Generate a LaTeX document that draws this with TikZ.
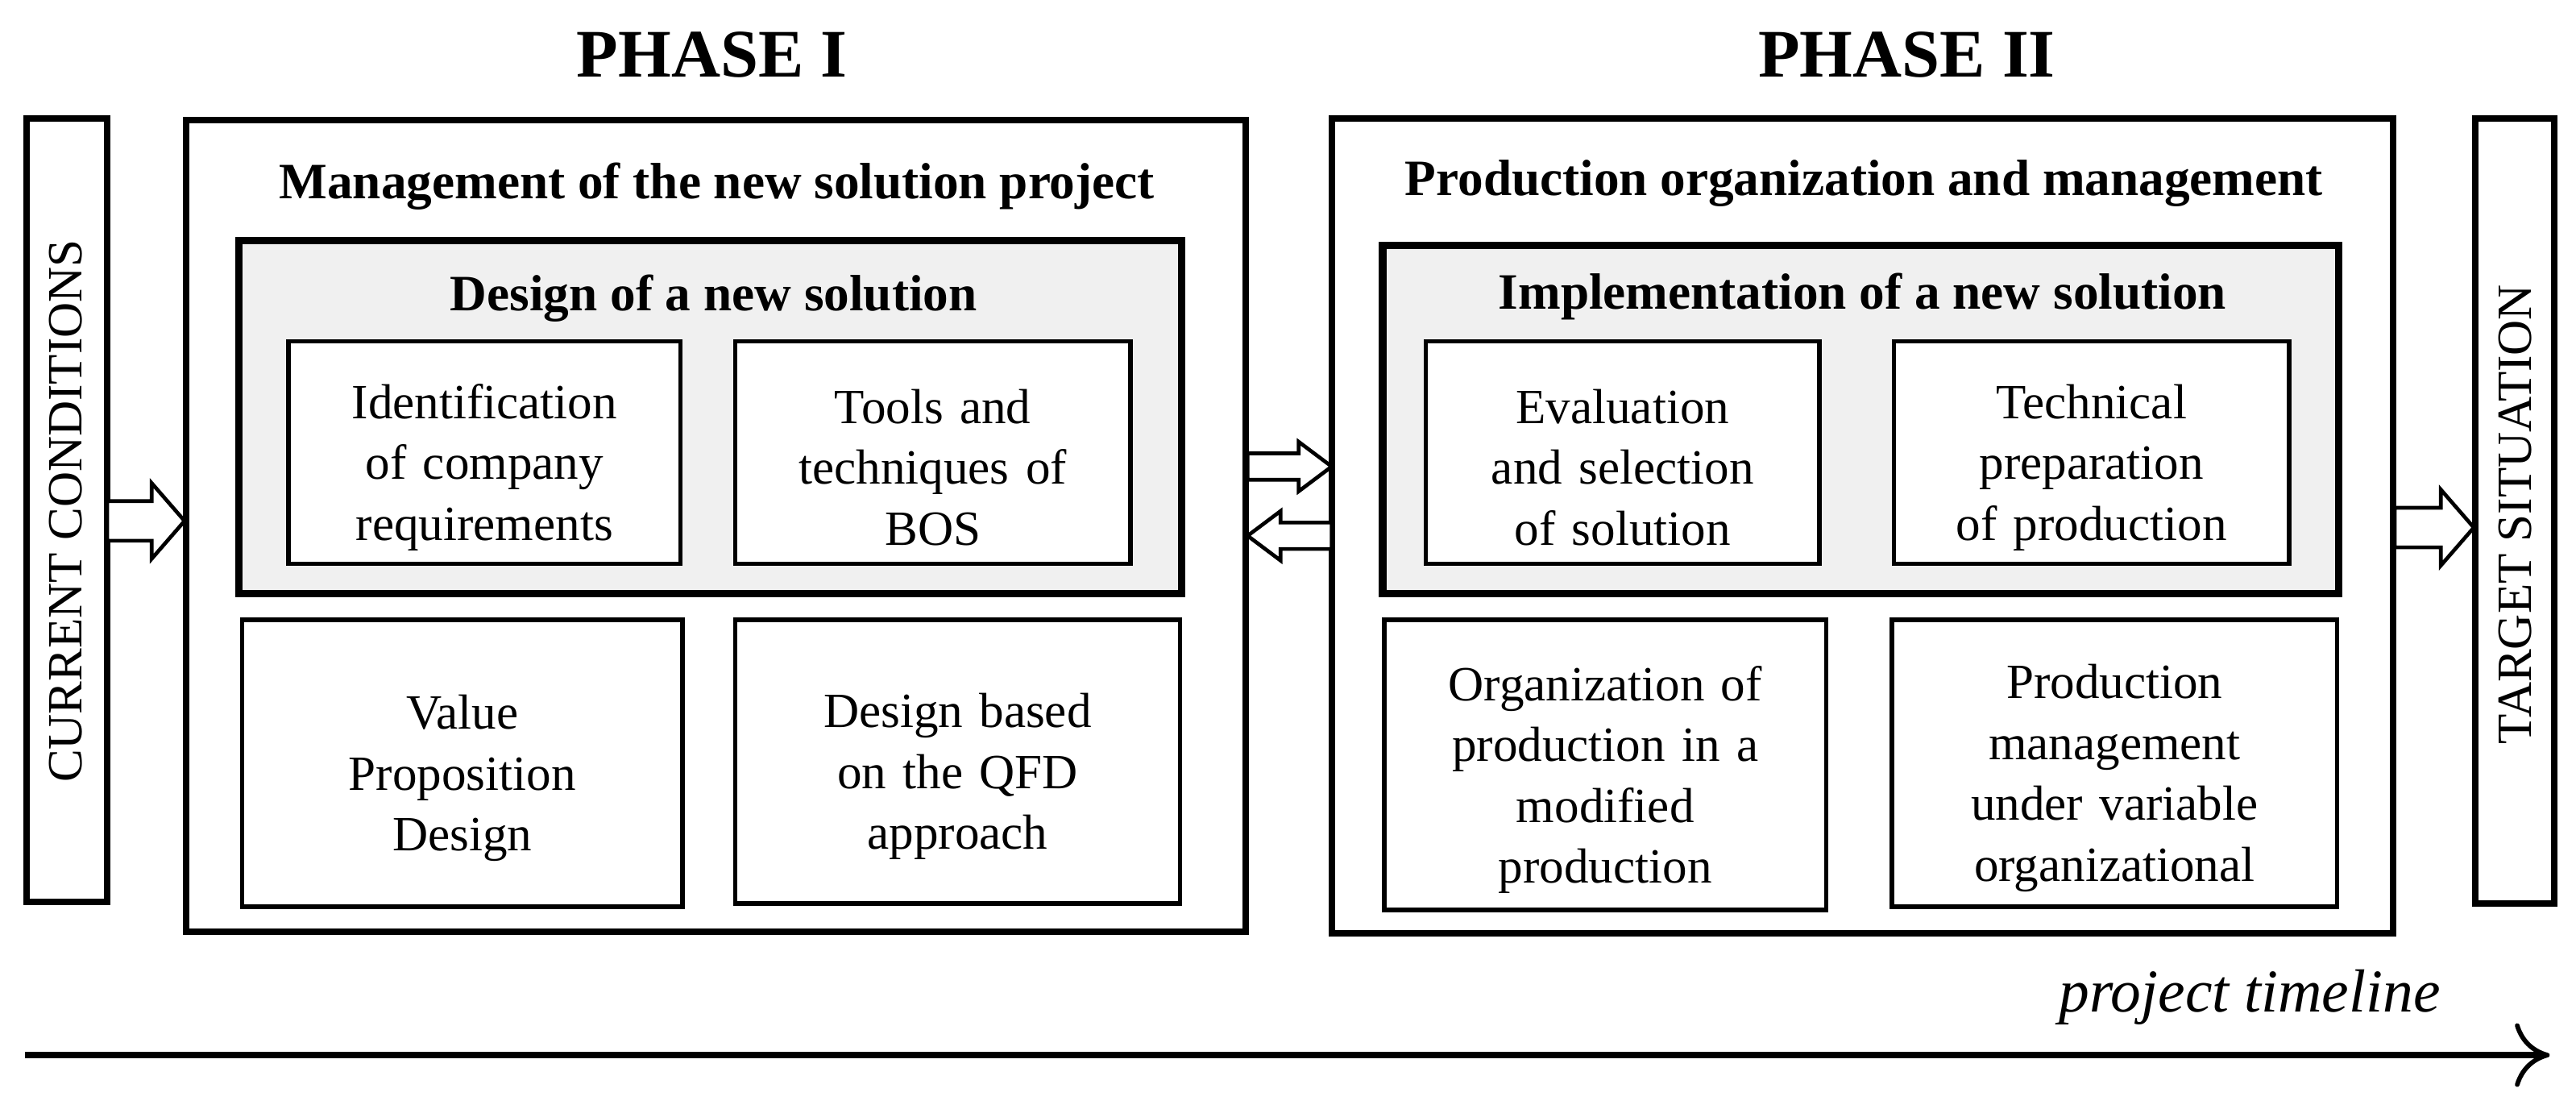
\documentclass[tikz,border=0pt]{standalone}
\usepackage{fontspec}
\setmainfont{Liberation Serif}
\usetikzlibrary{arrows.meta}
\tikzset{
  bx/.style={draw,line width=1.5pt},
  outer/.style={draw,line width=2.2pt},
  grayb/.style={draw,line width=2.6pt,fill=black!6},
  txt/.style={align=center,font=\fontsize{17}{21}\selectfont,inner sep=0pt},
  ttl/.style={font=\bfseries\fontsize{17.6}{20}\selectfont,inner sep=0pt},
  ph/.style={font=\bfseries\fontsize{23.5}{27}\selectfont,inner sep=0pt},
  harr/.style={draw,line width=1.3pt,fill=white,line join=miter}
}
\newcommand\hollowarrow[6]{%
  \draw[harr] (#1,#3-#4) -- (#2-#6,#3-#4) -- (#2-#6,#3-#5) -- (#2,#3) -- (#2-#6,#3+#5) -- (#2-#6,#3+#4) -- (#1,#3+#4) -- cycle;}
\newcommand\clipbox[5]{% x1 y1 x2 y2 text
  \fill[white] (#1,#2) rectangle (#3,#4);
  \begin{scope}
  \clip (#1,#2) rectangle (#3,#4);
  \node[txt,text width={(#3-#1-10)*0.02cm}] at ({(#1+#3)/2},{(#2+#4)/2+9}) {#5};
  \end{scope}
  \draw[bx] (#1,#2) rectangle (#3,#4);}
\begin{document}
\begin{tikzpicture}[x=0.02cm,y=-0.02cm]
\useasboundingbox (0,0) rectangle (1563,670);
\node[ph] (p1) at (432,33) {PHASE I};
\node[ph] (p2) at (1157,33) {PHASE II};
\draw[outer] (16,72) rectangle (65,547);
\node[txt,rotate=90] (cc) at (40,310) {CURRENT CONDITIONS};
\draw[outer] (1502,72) rectangle (1550,548);
\node[txt,rotate=90] (ts) at (1526,312) {TARGET SITUATION};
% phase I
\draw[outer] (113,73) rectangle (756,565);
\node[ttl] (m1) at (435,113) {Management of the new solution project};
\draw[grayb] (145,146) rectangle (717,360);
\node[ttl] (d1) at (433,181) {Design of a new solution};
\clipbox{175}{207}{413}{342}{Identification\\of company\\requirements}
\clipbox{446}{207}{686}{342}{Tools and\\techniques of\\BOS}
\clipbox{147}{376}{414}{550}{Value\\Proposition\\Design}
\clipbox{446}{376}{716}{548}{Design based\\on the QFD\\approach}
% phase II
\draw[outer] (808,72) rectangle (1452,566);
\node[ttl] (m2) at (1131,111) {Production organization and management};
\draw[grayb] (839,149) rectangle (1419,360);
\node[ttl] (d2) at (1130,180) {Implementation of a new solution};
\clipbox{865}{207}{1104}{342}{Evaluation\\and selection\\of solution}
\clipbox{1149}{207}{1389}{342}{Technical\\preparation\\of production}
\clipbox{840}{376}{1108}{552}{Organization of\\production in a\\modified\\production}
\clipbox{1148}{376}{1418}{550}{Production\\management\\under variable\\organizational}
% hollow arrows
\hollowarrow{65}{112}{316}{12}{23}{20}
\hollowarrow{757}{808}{283}{8}{15}{20}
\hollowarrow{808}{757}{325}{8}{15}{-20}
\hollowarrow{1453}{1501}{320}{12}{23}{20}
% timeline
\coordinate (t0) at (15,640);
\coordinate (t1) at (1547,640);
\draw[line width=2pt,-{To[length=12pt,width=22pt,line width=1.6pt]}] (t0) -- (t1);
\node[font=\itshape\fontsize{21}{24}\selectfont,inner sep=0pt] (pt) at (1365,605) {project timeline};
\end{tikzpicture}
\end{document}
